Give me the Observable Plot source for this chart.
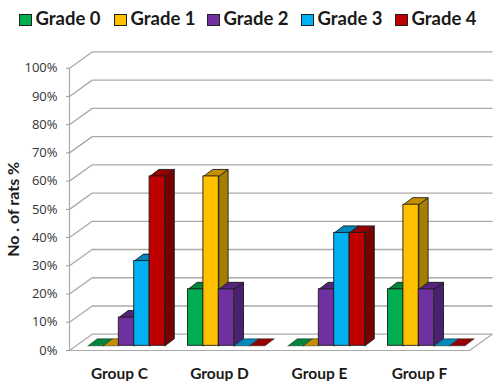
<!DOCTYPE html>
<html>
<head>
<meta charset="utf-8">
<script src="https://cdn.jsdelivr.net/npm/d3@7"></script>
<script src="https://cdn.jsdelivr.net/npm/@observablehq/plot@0.6"></script>
<style>
html,body{margin:0;padding:0;background:#fff;width:500px;height:381px;overflow:hidden}
#legend{height:40px;position:relative;font:700 18.5px Lato,sans-serif;color:#1a1a1a}
#legend .item{position:absolute;top:7px;height:22px;line-height:22px;white-space:nowrap}
#legend .sw{display:inline-block;width:10.5px;height:10.5px;border:1.2px solid #222;margin-right:4px;vertical-align:-1px}
svg{display:block}
</style>
</head>
<body>
<div id="legend"></div>
<div id="chart"></div>
<script>
const groups = ["Group C", "Group D", "Group E", "Group F"];
const grades = ["Grade 0", "Grade 1", "Grade 2", "Grade 3", "Grade 4"];
const grade0 = [0, 20, 0, 20];
const grade1 = [0, 60, 0, 50];
const grade2 = [10, 20, 20, 20];
const grade3 = [30, 0, 40, 0];
const grade4 = [60, 0, 40, 0];
const yTicks = [0, 10, 20, 30, 40, 50, 60, 70, 80, 90, 100];
const yTitle = "No . of rats %";

const frontColors = ["#00B050", "#FFC000", "#7030A0", "#00B0F0", "#C00000"];
const topColors   = ["#00843C", "#C49000", "#54247A", "#0088BB", "#960000"];
const sideColors  = ["#006A30", "#A67E00", "#4A2070", "#00749F", "#780000"];
const legendLeft = [19, 114, 207, 301, 395];

const series = [grade0, grade1, grade2, grade3, grade4];

// oblique projection, expressed in scale units
const wallDX = 0.227, wallDY = 5.77;
const barDX = 0.093, barDY = 2.48;
const barX0 = 0.185, barW = 0.154;
const barOffY = 1.66;

const barOf = (i, j) => {
  const x1 = i + barX0 + j * barW, x2 = x1 + barW;
  return {x1, x2, v: series[j][i], y1: barOffY, y2: barOffY + series[j][i], j};
};

const poly = (id, fill, pts) =>
  [...pts, pts[0]].map(([x, y]) => ({id, fill, x, y}));

const marks = [];

// floor
marks.push(Plot.line(poly("floor", "none", [[0, 0], [4, 0], [4 + wallDX, wallDY], [wallDX, wallDY]]),
  {x: "x", y: "y", stroke: "#aaa", strokeWidth: 1.2}));

// wall gridlines
const gridRows = yTicks.flatMap(t => [
  {t, x: 0, y: t},
  {t, x: wallDX, y: t + wallDY},
  {t, x: 4 + wallDX, y: t + wallDY}
]);
marks.push(Plot.line(gridRows.filter(d => d.t > 0), {x: "x", y: "y", z: "t", stroke: "#aaa", strokeWidth: 1.3}));

// vertical axis line
marks.push(Plot.ruleX([0], {y1: 0, y2: 100, stroke: "#aaa", strokeWidth: 1.2}));

// bars, left to right, so that each bar hides the one behind it
groups.forEach((g, i) => {
  grades.forEach((gr, j) => {
    const b = barOf(i, j);
    const style = {x: "x", y: "y", stroke: "#1c1c1c", strokeWidth: 0.9, strokeLinejoin: "miter"};
    if (b.v > 0) {
      marks.push(Plot.line(poly("s", sideColors[j], [
        [b.x2, b.y1], [b.x2 + barDX, b.y1 + barDY], [b.x2 + barDX, b.y2 + barDY], [b.x2, b.y2]
      ]), {...style, fill: sideColors[j]}));
    }
    marks.push(Plot.line(poly("t", topColors[j], [
      [b.x1, b.y2], [b.x2, b.y2], [b.x2 + barDX, b.y2 + barDY], [b.x1 + barDX, b.y2 + barDY]
    ]), {...style, fill: topColors[j], strokeWidth: b.v > 0 ? 0.9 : 0.5}));
    if (b.v > 0) {
      marks.push(Plot.rect([b], {x1: "x1", x2: "x2", y1: "y1", y2: "y2", fill: frontColors[j], stroke: "#1c1c1c", strokeWidth: 0.9}));
    }
  });
});

// axes and labels
marks.push(Plot.axisY({
  ticks: yTicks, tickFormat: d => d + "%", tickSize: 3, tickPadding: 9, label: null,
  stroke: "#999", fill: "#333", fontSize: 13, fontFamily: "Open Sans, sans-serif"
}));
marks.push(Plot.text(groups, {
  x: (d, i) => i + 0.5, y: () => 0, text: d => d, dy: 23.5,
  fontFamily: "Lato, sans-serif", fontWeight: 700, fontSize: 15.5, fill: "#1a1a1a"
}));
marks.push(Plot.text([yTitle], {
  frameAnchor: "left", rotate: -90, dx: -56, text: d => d, textAnchor: "middle",
  fontFamily: "Lato, sans-serif", fontWeight: 700, fontSize: 16, fill: "#1a1a1a"
}));

const plot = Plot.plot({
  width: 500, height: 341,
  marginLeft: 69, marginRight: 31, marginTop: 27.7, marginBottom: 31,
  style: {background: "#fff", overflow: "visible"},
  x: {domain: [0, 4], axis: null},
  y: {domain: [0, 100], axis: null},
  marks
});
document.getElementById("chart").append(plot);

const legend = document.getElementById("legend");
grades.forEach((g, j) => {
  const it = document.createElement("div");
  it.className = "item";
  it.style.left = legendLeft[j] + "px";
  const sw = document.createElement("span");
  sw.className = "sw";
  sw.style.background = frontColors[j];
  it.append(sw, g);
  legend.append(it);
});
</script>
</body>
</html>
